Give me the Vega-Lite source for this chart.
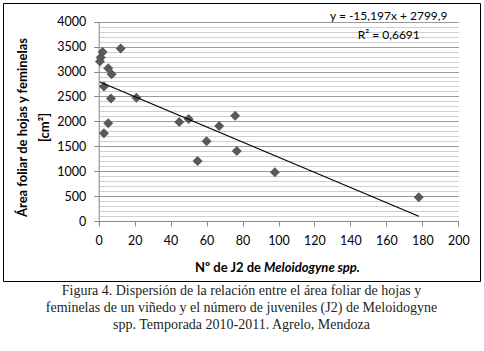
{
  "$schema": "https://vega.github.io/schema/vega-lite/v6.json",
  "width": 477,
  "height": 278,
  "padding": {"left": 3, "top": 3, "right": 4, "bottom": 4},
  "background": "white",
  "config": {"view": {"stroke": "#000000", "strokeWidth": 1}, "font": "Lato"},
  "title": {
    "text": [
      "Figura 4. Dispersión de la relación entre el área foliar de hojas y",
      "feminelas de un viñedo y el número de juveniles (J2) de Meloidogyne",
      "spp. Temporada 2010-2011. Agrelo, Mendoza"
    ],
    "orient": "bottom",
    "anchor": "middle",
    "font": "Liberation Serif",
    "fontSize": 14,
    "fontWeight": "normal",
    "color": "#231f20",
    "lineHeight": 17,
    "offset": 3,
    "baseline": "top"
  },
  "datasets": {
    "points": [
      {"x": 0.7, "y": 3200}, {"x": 1.1, "y": 3280}, {"x": 2.2, "y": 3390},
      {"x": 12.2, "y": 3460}, {"x": 5.3, "y": 3065}, {"x": 7.2, "y": 2945},
      {"x": 2.9, "y": 2700}, {"x": 6.8, "y": 2460}, {"x": 21, "y": 2475},
      {"x": 5.3, "y": 1960}, {"x": 2.9, "y": 1760}, {"x": 44.8, "y": 1985},
      {"x": 50, "y": 2045}, {"x": 75.9, "y": 2110}, {"x": 67, "y": 1905},
      {"x": 60, "y": 1600}, {"x": 76.8, "y": 1405}, {"x": 55, "y": 1205},
      {"x": 98, "y": 978}, {"x": 178, "y": 476}
    ],
    "trend": [{"x": 0.7, "y": 2789.3}, {"x": 178, "y": 94.8}],
    "labels": [
      {"x": 161.3, "y": 4116, "t": "y = -15,197x + 2799,9"},
      {"x": 161.3, "y": 3735, "t": "R² = 0,6691"}
    ]
  },
  "layer": [
    {
      "data": {"name": "points"},
      "mark": {"type": "point", "shape": "diamond", "filled": true, "color": "#595959", "size": 100, "opacity": 1},
      "encoding": {
        "x": {
          "field": "x", "type": "quantitative",
          "scale": {"domain": [0, 200], "range": [95.7, 455.3], "nice": false, "zero": false},
          "axis": {
            "orient": "bottom", "offset": -60,
            "values": [0, 20, 40, 60, 80, 100, 120, 140, 160, 180, 200],
            "format": "d", "grid": false,
            "tickSize": 5, "tickColor": "#868686", "domainColor": "#868686",
            "labelFont": "Lato", "labelFontSize": 12.5, "labelColor": "#000000",
            "labelPadding": 8, "labelFlush": false, "labelOverlap": false,
            "title": "Nº de J2 de", "titleFont": "Lato", "titleFontSize": 13,
            "titleFontWeight": "bold", "titleColor": "#000000",
            "titleX": 257.5, "titleY": 50.5, "titleAlign": "right", "titleBaseline": "alphabetic"
          }
        },
        "y": {
          "field": "y", "type": "quantitative",
          "scale": {"domain": [0, 4000], "range": [218, 18.7], "nice": false},
          "axis": {
            "orient": "left",
            "title": ["Área foliar de hojas y feminelas", "[cm²]"],
            "values": [0, 500, 1000, 1500, 2000, 2500, 3000, 3500, 4000],
            "format": "d",
            "labelOverlap": false, "labelBound": false, "labelFlush": false,
            "offset": -95.7,
            "tickSize": 5, "tickColor": "#868686",
            "domainColor": "#868686",
            "grid": true, "gridColor": "#9a9a9a", "gridWidth": 1,
            "labelFont": "Lato", "labelFontSize": 12.5, "labelColor": "#000000", "labelPadding": 8,
            "titleFont": "Lato", "titleFontSize": 13, "titleFontWeight": "bold", "titleColor": "#000000",
            "titleAngle": 270, "titleX": -76.7, "titleY": 124,
            "titleBaseline": "middle", "titleAlign": "center", "titleLineHeight": 22
          }
        }
      }
    },
    {
      "data": {"name": "trend"},
      "mark": {"type": "line", "color": "#000000", "strokeWidth": 1.2},
      "encoding": {
        "x": {
          "field": "x", "type": "quantitative",
          "axis": {
            "orient": "bottom", "offset": -60,
            "labels": false, "ticks": false, "domain": false, "grid": false,
            "title": "Meloidogyne spp.", "titleFont": "Lato", "titleFontSize": 13,
            "titleFontWeight": "bold", "titleFontStyle": "italic", "titleColor": "#000000",
            "titleX": 260.5, "titleY": 50.5, "titleAlign": "left", "titleBaseline": "alphabetic"
          }
        },
        "y": {
          "field": "y", "type": "quantitative",
          "axis": {
            "orient": "left", "offset": -95.7,
            "values": [100, 200, 300, 400, 600, 700, 800, 900, 1100, 1200, 1300, 1400, 1600, 1700, 1800, 1900, 2100, 2200, 2300, 2400, 2600, 2700, 2800, 2900, 3100, 3200, 3300, 3400, 3600, 3700, 3800, 3900],
            "labels": false, "ticks": false, "domain": false,
            "grid": true, "gridColor": "#cfcfcf", "gridWidth": 1,
            "title": null
          }
        }
      }
    },
    {
      "data": {"name": "labels"},
      "mark": {"type": "text", "font": "Lato", "fontSize": 12, "color": "#000000", "align": "center", "baseline": "middle"},
      "encoding": {
        "x": {"field": "x", "type": "quantitative", "axis": null},
        "y": {"field": "y", "type": "quantitative", "axis": null},
        "text": {"field": "t"}
      }
    }
  ],
  "resolve": {"axis": {"x": "independent", "y": "independent"}}
}
